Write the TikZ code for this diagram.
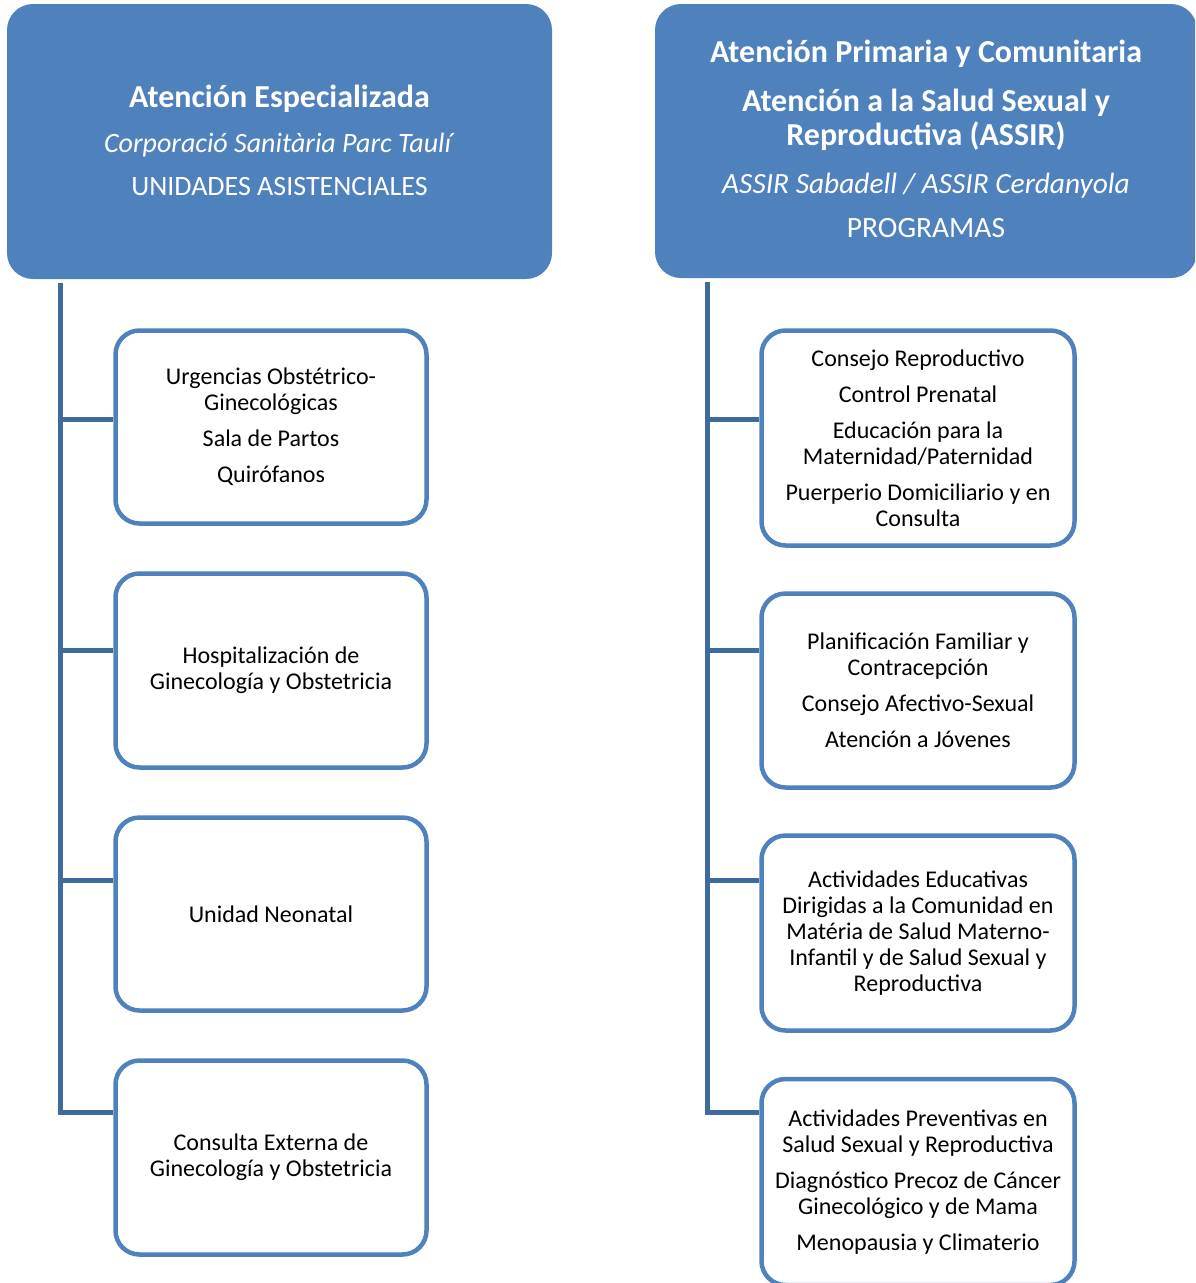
\documentclass[tikz,border=0pt]{standalone}
\usepackage{fontspec}
\setmainfont{Carlito}
\definecolor{hdr}{HTML}{4F81BD}
\definecolor{trunkc}{HTML}{3F6A9C}
\newcommand{\hb}[1]{{\fontsize{32}{34}\selectfont\bfseries #1}}
\begin{document}
\begin{tikzpicture}[x=1pt,y=-1pt,
  header/.style={fill=hdr, draw=none, rounded corners=26pt, text=white, align=center,
    font=\fontsize{28}{34}\selectfont},
  child/.style={draw=hdr, line width=4.5pt, fill=white, rounded corners=24pt, align=center,
    font=\fontsize{24}{26}\selectfont},
  trunk/.style={draw=trunkc, line width=5pt}]
\useasboundingbox (0,0) rectangle (1195,1283);
\clip (0,0) rectangle (1195,1283);
% headers
\node[header, minimum width=545pt, minimum height=275pt] (lh) at (279.5,141.5)
  {\hb{Atención Especializada}\\[11pt]
   \textit{Corporació Sanitària Parc Taulí}\\[9pt]
   UNIDADES ASISTENCIALES\\[-32pt]\mbox{}};
\node[header, minimum width=542pt, minimum height=274pt] (rh) at (926,141)
  {\hb{Atención Primaria y Comunitaria}\\[15pt]
   \hb{Atención a la Salud Sexual y}\\
   \hb{Reproductiva (ASSIR)}\\[14pt]
   {\fontsize{29.4}{34}\selectfont\itshape ASSIR Sabadell / ASSIR Cerdanyola}\\[10pt]
   {\fontsize{29.5}{34}\selectfont PROGRAMAS}\\[-30pt]\mbox{}};
% left children
\node[child, minimum width=311pt, minimum height=193pt] (l1) at (271,427)
  {Urgencias Obstétrico-\\Ginecológicas\\[10pt]Sala de Partos\\[10pt]Quirófanos};
\node[child, minimum width=311pt, minimum height=194pt] (l2) at (271,670.5)
  {Hospitalización de\\Ginecología y Obstetricia};
\node[child, minimum width=311pt, minimum height=193pt] (l3) at (271,914)
  {Unidad Neonatal};
\node[child, minimum width=311pt, minimum height=194pt] (l4) at (271,1157.5)
  {Consulta Externa de\\Ginecología y Obstetricia};
% right children
\node[child, minimum width=313pt, minimum height=215pt] (r1) at (918,438)
  {Consejo Reproductivo\\[10pt]Control Prenatal\\[10pt]Educación para la\\Maternidad/Paternidad\\[10pt]Puerperio Domiciliario y en\\Consulta};
\node[child, minimum width=313pt, minimum height=194pt] (r2) at (918,690.5)
  {Planificación Familiar y\\Contracepción\\[10pt]Consejo Afectivo-Sexual\\[10pt]Atención a Jóvenes};
\node[child, minimum width=313pt, minimum height=195pt] (r3) at (918,933)
  {Actividades Educativas\\Dirigidas a la Comunidad en\\Matéria de Salud Materno-\\Infantil y de Salud Sexual y\\Reproductiva};
\node[child, minimum width=313pt, minimum height=206pt] (r4) at (918,1182)
  {Actividades Preventivas en\\Salud Sexual y Reproductiva\\[10pt]Diagnóstico Precoz de Cáncer\\Ginecológico y de Mama\\[10pt]Menopausia y Climaterio};
% branch points
\coordinate (lt) at (60,283);
\coordinate (lb1) at (60,419);
\coordinate (lb2) at (60,650);
\coordinate (lb3) at (60,880);
\coordinate (lb4) at (60,1112);
\coordinate (rt) at (707,282);
\coordinate (rb1) at (707,419);
\coordinate (rb2) at (707,650);
\coordinate (rb3) at (707,880);
\coordinate (rb4) at (707,1112);
% connectors
\draw[trunk] (lt) -- (lb4) -- (lb4 -| l4.west);
\draw[trunk] (lb1) -- (lb1 -| l1.west);
\draw[trunk] (lb2) -- (lb2 -| l2.west);
\draw[trunk] (lb3) -- (lb3 -| l3.west);
\draw[trunk] (rt) -- (rb4) -- (rb4 -| r4.west);
\draw[trunk] (rb1) -- (rb1 -| r1.west);
\draw[trunk] (rb2) -- (rb2 -| r2.west);
\draw[trunk] (rb3) -- (rb3 -| r3.west);
\end{tikzpicture}
\end{document}
